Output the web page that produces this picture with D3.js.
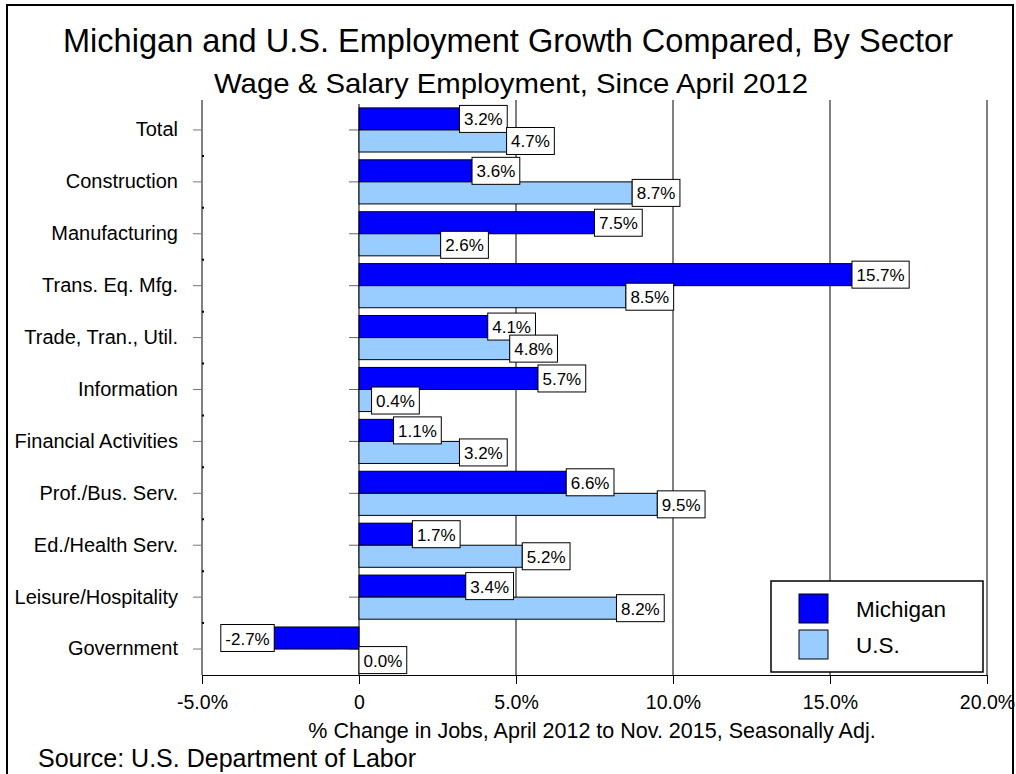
<!DOCTYPE html>
<html>
<head>
<meta charset="utf-8">
<script src="https://cdn.jsdelivr.net/npm/d3@7"></script>
<style>
  body { margin: 0; background: #fff; }
  svg { display: block; font-family: Arial, "Liberation Sans", sans-serif; }
</style>
</head>
<body>
<svg class="chart" width="1016" height="774"></svg>
<script>
const sectors = [`Total`, `Construction`, `Manufacturing`, `Trans. Eq. Mfg.`, `Trade, Tran., Util.`, `Information`,
  `Financial Activities`, `Prof./Bus. Serv.`, `Ed./Health Serv.`, `Leisure/Hospitality`, `Government`];
const michigan = [3.2, 3.6, 7.5, 15.7, 4.1, 5.7, 1.1, 6.6, 1.7, 3.4, -2.7];
const us = [4.7, 8.7, 2.6, 8.5, 4.8, 0.4, 3.2, 9.5, 5.2, 8.2, 0.0];
const seriesNames = [`Michigan`, `U.S.`];
const seriesColors = [`#0000ff`, `#99ccff`];
const xTicks = [-5, 0, 5, 10, 15, 20];
const xTickLabels = [`-5.0%`, `0`, `5.0%`, `10.0%`, `15.0%`, `20.0%`];

const svg = d3.select(`.chart`);

// outer frame
svg.append(`rect`)
  .attr(`x`, 7).attr(`y`, 5)
  .attr(`width`, 1006).attr(`height`, 780)
  .attr(`fill`, `none`)
  .attr(`stroke`, `#000`)
  .attr(`stroke-width`, 2);

svg.append(`text`)
  .attr(`x`, 508).attr(`y`, 52)
  .attr(`text-anchor`, `middle`)
  .attr(`font-size`, 34)
  .attr(`textLength`, 890)
  .attr(`lengthAdjust`, `spacingAndGlyphs`)
  .text(`Michigan and U.S. Employment Growth Compared, By Sector`);

svg.append(`text`)
  .attr(`x`, 511).attr(`y`, 93)
  .attr(`text-anchor`, `middle`)
  .attr(`font-size`, 28)
  .attr(`textLength`, 594)
  .attr(`lengthAdjust`, `spacingAndGlyphs`)
  .text(`Wage & Salary Employment, Since April 2012`);

const x = d3.scaleLinear().domain([-5, 20]).range([202, 987]);
const y = d3.scaleBand().domain(sectors).range([104, 675])
  .paddingInner(0.15).paddingOuter(0.075);
const sub = d3.scaleBand().domain(seriesNames).range([0, y.bandwidth()]);

const plotTop = 100, plotBottom = 675;

// vertical grid lines
svg.append(`g`)
  .selectAll(`line`)
  .data(xTicks.filter(d => d > 0))
  .enter().append(`line`)
    .attr(`x1`, d => x(d)).attr(`x2`, d => x(d))
    .attr(`y1`, plotTop).attr(`y2`, plotBottom)
    .attr(`stroke`, `#000`);

// category axis on the left edge
const yAxis = svg.append(`g`)
  .attr(`transform`, `translate(${x(-5)},0)`)
  .call(d3.axisLeft(y).tickSize(9).tickSizeOuter(0).tickPadding(15));
yAxis.select(`.domain`).attr(`d`, `M0,${plotTop}V${plotBottom}`).attr(`stroke`, `#000`);
yAxis.selectAll(`.tick line`).attr(`stroke`, `#777`);
yAxis.selectAll(`text`)
  .attr(`font-size`, 20)
  .attr(`font-family`, `Arial, "Liberation Sans", sans-serif`)
  .attr(`fill`, `#000`);

// small marks between categories
const bounds = sectors.slice(1).map(s => y(s) - y.step() * y.paddingInner() / 2);
svg.append(`g`)
  .selectAll(`line`)
  .data(bounds)
  .enter().append(`line`)
    .attr(`x1`, x(-5)).attr(`x2`, x(-5) + 2)
    .attr(`y1`, d => d).attr(`y2`, d => d)
    .attr(`stroke`, `#000`).attr(`stroke-width`, 2);

// zero line with ticks
const zeroAxis = svg.append(`g`)
  .attr(`transform`, `translate(${x(0)},0)`)
  .call(d3.axisLeft(y).tickSize(10).tickSizeOuter(0).tickFormat(``));
zeroAxis.select(`.domain`).attr(`d`, `M0,${y.range()[0]}V${plotBottom}`).attr(`stroke`, `#000`);
zeroAxis.selectAll(`.tick line`).attr(`stroke`, `#666`);

// bottom axis
const xAxis = svg.append(`g`)
  .attr(`transform`, `translate(0,${plotBottom})`)
  .call(d3.axisBottom(x).tickValues(xTicks).tickFormat((d, i) => xTickLabels[i])
    .tickSize(9).tickSizeOuter(0).tickPadding(11));
xAxis.select(`.domain`).attr(`stroke`, `#000`);
xAxis.selectAll(`text`)
  .attr(`font-size`, 19.5)
  .attr(`font-family`, `Arial, "Liberation Sans", sans-serif`)
  .attr(`fill`, `#000`);

svg.append(`text`)
  .attr(`x`, 592).attr(`y`, 738)
  .attr(`text-anchor`, `middle`)
  .attr(`font-size`, 21.5)
  .text(`% Change in Jobs, April 2012 to Nov. 2015, Seasonally Adj.`);

svg.append(`text`)
  .attr(`x`, 38).attr(`y`, 767)
  .attr(`font-size`, 25)
  .text(`Source: U.S. Department of Labor`);

// bars
const rows = sectors.map((s, i) => ({ sector: s, values: [michigan[i], us[i]] }));
const series = seriesNames.map((name, k) =>
  rows.map(r => ({ sector: r.sector, name, color: seriesColors[k], value: r.values[k] })));

series.forEach(data => {
  svg.append(`g`)
    .selectAll(`rect`)
    .data(data)
    .enter().append(`rect`)
      .attr(`x`, d => x(Math.min(0, d.value)))
      .attr(`y`, d => y(d.sector) + sub(d.name))
      .attr(`width`, d => Math.abs(x(d.value) - x(0)))
      .attr(`height`, sub.bandwidth())
      .attr(`fill`, d => d.color)
      .attr(`stroke`, `#000`)
      .attr(`stroke-width`, 1);
});

// value labels, Michigan first so U.S. boxes sit on top
series.forEach(data => {
  const labels = svg.append(`g`)
    .selectAll(`g`)
    .data(data)
    .enter().append(`g`);
  labels.append(`rect`)
    .attr(`fill`, `#fff`)
    .attr(`stroke`, `#000`)
    .attr(`stroke-width`, 1);
  labels.append(`text`)
    .attr(`font-size`, 17)
    .attr(`dominant-baseline`, `central`)
    .text(d => `${d.value.toFixed(1)}%`);
  labels.each(function(d) {
    const g = d3.select(this);
    const w = g.select(`text`).node().getComputedTextLength() + 9;
    const h = 27;
    const cy = y(d.sector) + sub(d.name) + sub.bandwidth() / 2;
    const left = d.value < 0 ? x(d.value) - w : x(d.value);
    g.select(`rect`).attr(`x`, left).attr(`y`, cy - h / 2).attr(`width`, w).attr(`height`, h);
    g.select(`text`).attr(`x`, left + 4.5).attr(`y`, cy + 1);
  });
});

// legend
const legend = svg.append(`g`).attr(`transform`, `translate(771,581)`);
legend.append(`rect`)
  .attr(`width`, 212).attr(`height`, 91)
  .attr(`fill`, `#fff`)
  .attr(`stroke`, `#000`)
  .attr(`stroke-width`, 1.5);
const items = legend.selectAll(`g`)
  .data(seriesNames)
  .enter().append(`g`)
    .attr(`transform`, (d, i) => `translate(28,${13 + i * 36})`);
items.append(`rect`)
  .attr(`width`, 29).attr(`height`, 29)
  .attr(`fill`, (d, i) => seriesColors[i])
  .attr(`stroke`, `#000`);
items.append(`text`)
  .attr(`x`, 57).attr(`y`, 15)
  .attr(`dominant-baseline`, `central`)
  .attr(`font-size`, 22.5)
  .text(d => d);
</script>
</body>
</html>
